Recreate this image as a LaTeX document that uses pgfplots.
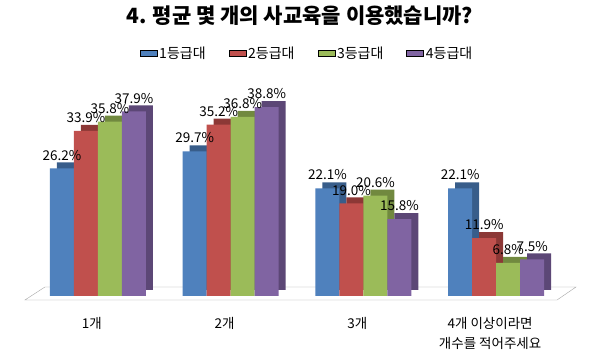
\documentclass[border=0pt]{standalone}
\usepackage{pgfplots}
\pgfplotsset{compat=1.18}
\usepackage{fontspec}
\setmainfont{Noto Sans CJK KR}
\definecolor{c1}{HTML}{4F81BD}
\definecolor{c2}{HTML}{C0504D}
\definecolor{c3}{HTML}{9BBB59}
\definecolor{c4}{HTML}{8064A2}
\definecolor{d1}{HTML}{385D8A}
\definecolor{d2}{HTML}{8C3836}
\definecolor{d3}{HTML}{71893F}
\definecolor{d4}{HTML}{5C4776}
\pgfplotstableread{
x a b c d
0 26.2 33.9 35.8 37.9
1 29.7 35.2 36.8 38.8
2 22.1 19.0 20.6 15.8
3 22.1 11.9 6.8 7.5
}\datatable
\begin{document}
\begin{tikzpicture}
\useasboundingbox[fill=white] (0,0) rectangle (600pt,356pt);
\begin{axis}[
  at={(18.2pt,50.3pt)}, anchor=south west,
  scale only axis, width=557.6pt, height=224pt,
  xmin=-0.6, xmax=3.6, ymin=-2, ymax=44,
  clip=false,
  axis line style={draw=none}, major tick length=0pt,
  ytick=\empty,
  xtick={0,1,2,3},
  xticklabels={1개,2개,3개,{4개 이상이라면\\[4pt]개수를 적어주세요}},
  xticklabel style={font=\fontsize{13.5}{16}\selectfont, align=center, anchor=north, yshift=-8pt, xshift=-6pt},
  title={\bfseries 4. 평균 몇 개의 사교육을 이용했습니까?},
  title style={font=\fontsize{21}{24}\selectfont, at={(axis description cs:0.505,1.266)}, anchor=center},
  legend columns=4,
  legend style={draw=none, fill=none, font=\fontsize{14}{16}\selectfont, at={(axis description cs:0.518,1.128)}, anchor=center, /tikz/every even column/.append style={column sep=21pt}},
  legend image code/.code={\fill[#1] (0pt,-3.5pt) rectangle (7pt,3.5pt);},
  nodes near coords={\pgfmathprintnumber[fixed,fixed zerofill,precision=1,assume math mode=true]{\pgfplotspointmeta}\%},
  every node near coord/.append style={font=\fontsize{13.5}{15}\selectfont, text=black, anchor=south, yshift=7pt, inner sep=1pt},
]
% floor
\addplot[fill=white, draw=gray!70, forget plot, nodes near coords={}] coordinates {(-0.549,-0.82) (3.459,-0.82) (3.602,1.85) (-0.398,1.85)} -- cycle;
% depth faces
\addplot[ybar, bar width=24pt, bar shift=-29pt, fill=d1, draw=none, yshift=6pt, forget plot, nodes near coords={}] table[x=x,y=a]{\datatable};
\addplot[ybar, bar width=24pt, bar shift=-5pt, fill=d2, draw=none, yshift=6pt, forget plot, nodes near coords={}] table[x=x,y=b]{\datatable};
\addplot[ybar, bar width=24pt, bar shift=19pt, fill=d3, draw=none, yshift=6pt, forget plot, nodes near coords={}] table[x=x,y=c]{\datatable};
\addplot[ybar, bar width=24pt, bar shift=43pt, fill=d4, draw=none, yshift=6pt, forget plot, nodes near coords={}] table[x=x,y=d]{\datatable};
% fronts
\addplot[ybar, bar width=24pt, bar shift=-36pt, fill=c1, draw=none, area legend, every node near coord/.append style={xshift=-36pt}] table[x=x,y=a]{\datatable};
\addplot[ybar, bar width=24pt, bar shift=-12pt, fill=c2, draw=none, area legend, every node near coord/.append style={xshift=-12pt}] table[x=x,y=b]{\datatable};
\addplot[ybar, bar width=24pt, bar shift=12pt, fill=c3, draw=none, area legend, every node near coord/.append style={xshift=12pt}] table[x=x,y=c]{\datatable};
\addplot[ybar, bar width=24pt, bar shift=36pt, fill=c4, draw=none, area legend, every node near coord/.append style={xshift=36pt}] table[x=x,y=d]{\datatable};
\legend{1등급대,2등급대,3등급대,4등급대}
\end{axis}
\end{tikzpicture}
\end{document}
